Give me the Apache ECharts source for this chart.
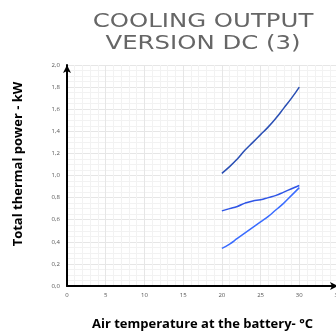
<!DOCTYPE html>
<html>
<head>
<meta charset="utf-8">
<script src="https://cdn.jsdelivr.net/npm/echarts@6/dist/echarts.min.js"></script>
<style>
  html, body { margin: 0; padding: 0; background: #fff; }
  #chart { width: 336px; height: 336px; }
</style>
</head>
<body>
<div id="chart"></div>
<script>
// Air temperature at the battery (°C)
const temperatures = [20, 21, 22, 23, 24, 25, 26, 27, 28, 29, 30];
// Total thermal power (kW) for the three curves
const upperCurve  = [1.02, 1.08, 1.15, 1.23, 1.30, 1.37, 1.44, 1.52, 1.61, 1.70, 1.80];
const middleCurve = [0.68, 0.70, 0.72, 0.75, 0.77, 0.78, 0.80, 0.82, 0.85, 0.88, 0.91];
const lowerCurve  = [0.34, 0.38, 0.43, 0.48, 0.53, 0.58, 0.63, 0.69, 0.75, 0.82, 0.89];

const titleText = 'COOLING OUTPUT\nVERSION DC (3)';
const xAxisTitle = 'Air temperature at the battery- °C';
const yAxisTitle = 'Total thermal power - kW';

const pairs = arr => temperatures.map((t, i) => [t, arr[i]]);

const chart = echarts.init(document.getElementById('chart'), null, { renderer: 'canvas' });

const axisLabelStyle = { fontSize: 6, color: '#555', fontFamily: 'Open Sans' };
const minorLine = { show: true, lineStyle: { color: '#f2f2f2', width: 1 } };

chart.setOption({
  animation: false,
  graphic: [{
    // wide two-line heading
    type: 'text',
    x: 203,
    y: 11,
    scaleX: 1.22,
    style: {
      text: titleText,
      fontFamily: 'DejaVu Sans',
      fontWeight: 'normal',
      fontSize: 20,
      lineHeight: 22,
      fill: '#666',
      align: 'center',
      verticalAlign: 'top'
    }
  }, {
    type: 'text',
    x: 18,
    y: 164,
    rotation: Math.PI / 2,
    style: {
      text: yAxisTitle,
      fontFamily: 'Open Sans',
      fontWeight: 'bold',
      fontSize: 13,
      fill: '#000',
      align: 'center',
      verticalAlign: 'middle'
    }
  }],
  grid: { left: 67, right: -2, top: 65, bottom: 50, outerBoundsMode: 'none', containLabel: false },
  xAxis: {
    type: 'value',
    min: 0,
    max: 35,
    interval: 5,
    name: xAxisTitle,
    nameLocation: 'middle',
    nameGap: 32,
    nameTextStyle: { fontFamily: 'Open Sans', fontWeight: 'bold', fontSize: 13, color: '#000' },
    axisLine: { show: true, symbol: ['none', 'arrow'], symbolSize: [6, 8], lineStyle: { color: '#000', width: 2 } },
    axisTick: { show: false },
    axisLabel: Object.assign({ margin: 6 }, axisLabelStyle),
    splitLine: { show: true, lineStyle: { color: '#e6e6e6', width: 1 } },
    minorTick: { show: false, splitNumber: 5 },
    minorSplitLine: minorLine
  },
  yAxis: {
    type: 'value',
    min: 0,
    max: 2,
    interval: 0.2,
    axisLine: { show: true, symbol: ['none', 'arrow'], symbolSize: [6, 8], lineStyle: { color: '#000', width: 2 } },
    axisTick: { show: false },
    axisLabel: Object.assign({
      margin: 7,
      formatter: v => v.toFixed(1).replace('.', ',')
    }, axisLabelStyle),
    splitLine: { show: true, lineStyle: { color: '#e6e6e6', width: 1 } },
    minorTick: { show: false, splitNumber: 4 },
    minorSplitLine: minorLine
  },
  series: [
    { type: 'line', data: pairs(upperCurve), smooth: true, showSymbol: false,
      lineStyle: { color: '#2a4fb4', width: 1.5 } },
    { type: 'line', data: pairs(middleCurve), smooth: true, showSymbol: false,
      lineStyle: { color: '#2f55e6', width: 1.5 } },
    { type: 'line', data: pairs(lowerCurve), smooth: true, showSymbol: false,
      lineStyle: { color: '#3a6cff', width: 1.5 } }
  ]
});
</script>
</body>
</html>
